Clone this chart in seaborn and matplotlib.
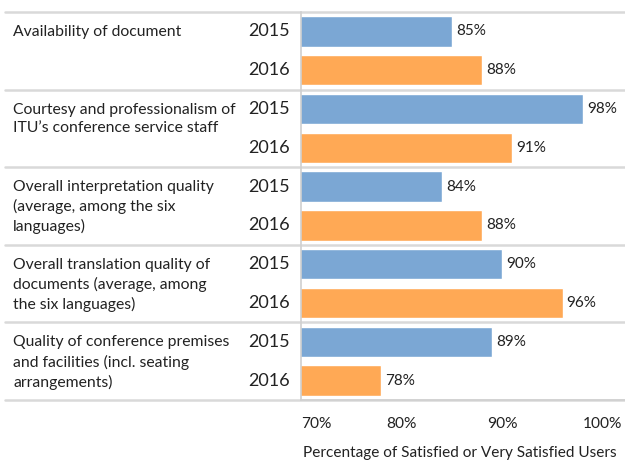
import matplotlib
matplotlib.use("Agg")
import matplotlib.pyplot as plt
import matplotlib.transforms as mtransforms
import pandas as pd
import seaborn as sns

# Survey items and satisfaction shares (%) for each year
categories = [
    "Availability of document",
    "Courtesy and professionalism of\nITU\u2019s conference service staff",
    "Overall interpretation quality\n(average, among the six\nlanguages)",
    "Overall translation quality of\ndocuments (average, among\nthe six languages)",
    "Quality of conference premises\nand facilities (incl. seating\narrangements)",
]
years = ["2015", "2016"]
values_2015 = [85, 98, 84, 90, 89]
values_2016 = [88, 91, 88, 96, 78]
x_ticks = [70, 80, 90, 100]
x_tick_labels = ["70%", "80%", "90%", "100%"]
x_label = "Percentage of Satisfied or Very Satisfied Users"

colors = {"2015": "#7BA7D4", "2016": "#FFA955"}

rows = []
for i, cat in enumerate(categories):
    for j, (yr, vals) in enumerate(zip(years, [values_2015, values_2016])):
        rows.append({"row": str(2 * i + j), "year": yr, "value": vals[i], "cat": cat})
df = pd.DataFrame(rows)

sns.set_style("white")
plt.rcParams["font.family"] = ["Lato", "DejaVu Sans"]

fig = plt.figure(figsize=(6.25, 4.62), dpi=100)
ax = fig.add_axes([301 / 625, 1 - 400 / 462, 1 - 301 / 625, (400 - 12) / 462])

sns.barplot(data=df, x="value", y="row", hue="year", palette=colors,
            dodge=False, orient="h", width=0.78, legend=False, ax=ax,
            saturation=1, order=[str(k) for k in range(10)])

ax.set_xlim(70, 102.2)
ax.set_ylim(9.5, -0.5)
ax.set_yticks([])
ax.set_ylabel("")
ax.set_xlabel("")
ax.set_xticks(x_ticks)
ax.set_xticklabels(x_tick_labels, fontsize=11.2, color="#222222")
ax.tick_params(axis="x", length=5, width=1, color="#d0d0d0", pad=7)
ax.get_xticklabels()[0].set_horizontalalignment("left")

for side in ["top", "right"]:
    ax.spines[side].set_visible(False)
for side in ["left", "bottom"]:
    ax.spines[side].set_color("#d0d0d0")
    ax.spines[side].set_linewidth(1.2)

# value labels at bar ends
for _, r in df.iterrows():
    ax.text(r["value"] + 0.4, int(r["row"]), f"{r['value']}%",
            va="center", ha="left", fontsize=11, color="#222222")

# group separators across the full width
trans = mtransforms.blended_transform_factory(fig.transFigure, ax.transData)
for k in range(len(categories) + 1):
    ax.plot([5 / 625, 1.0], [2 * k - 0.5, 2 * k - 0.5], transform=trans,
            color="#d9d9d9", lw=1.8, clip_on=False, zorder=0)

# category and year labels on the left
for i, cat in enumerate(categories):
    ax.annotate(cat, xy=(13 / 625, 2 * i), xycoords=trans,
                xytext=(0, 4.6), textcoords="offset points",
                ha="left", va="top", fontsize=11.3, color="#222222",
                linespacing=1.42)
    for j, yr in enumerate(years):
        ax.text(290 / 625, 2 * i + j, yr, transform=trans, ha="right",
                va="center", fontsize=13, color="#222222")

fig.text(303 / 625, 1 - 453 / 462, x_label, ha="left", va="center",
         fontsize=11.1, color="#222222")

fig.savefig("out.png", dpi=100)
